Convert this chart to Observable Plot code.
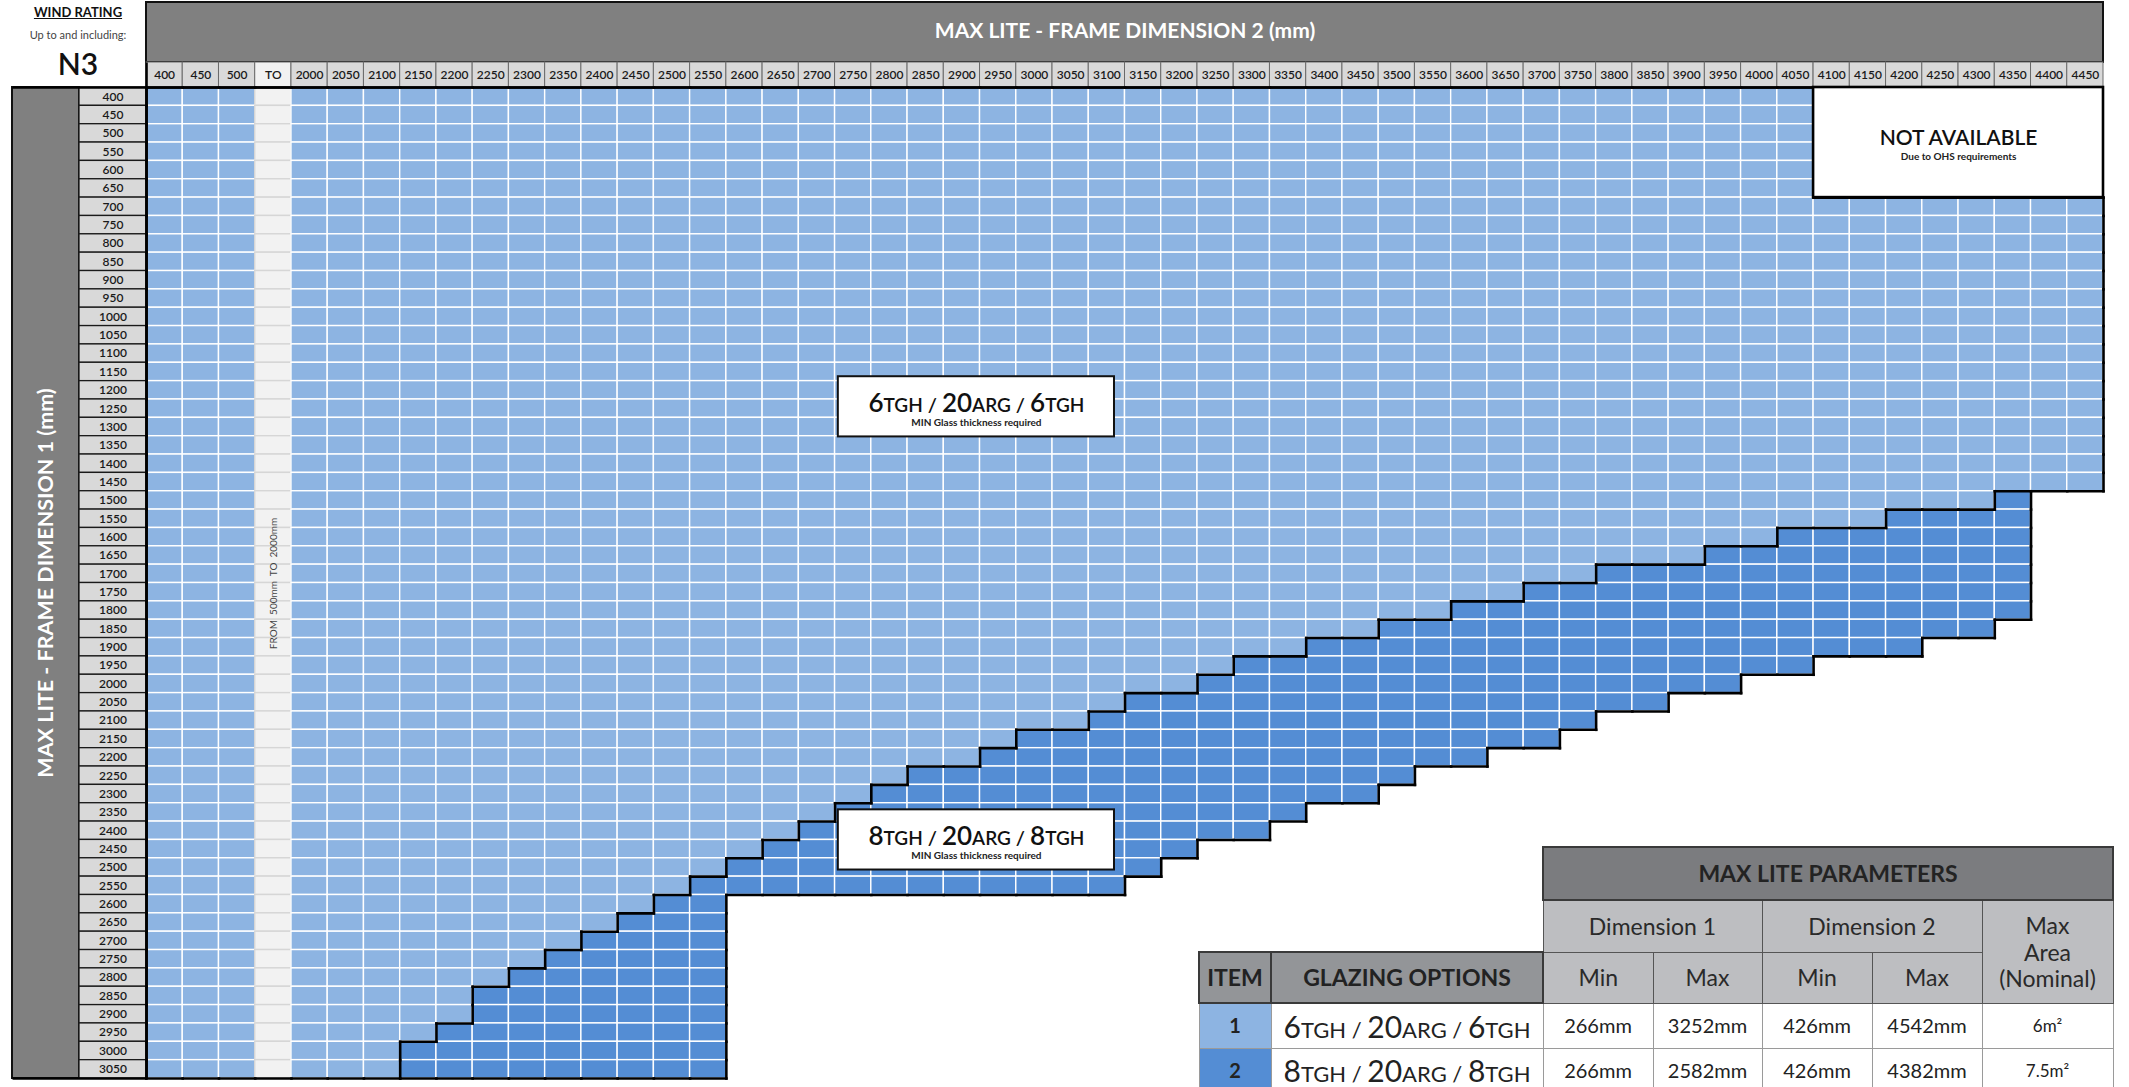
<!DOCTYPE html>
<html>
<head>
<meta charset="utf-8">
<script src="https://cdn.jsdelivr.net/npm/d3@7"></script>
<script src="https://cdn.jsdelivr.net/npm/@observablehq/plot@0.6"></script>
<style>
html,body{margin:0;padding:0;background:#fff;}
#wrap{position:relative;width:2129px;height:1087px;overflow:hidden;font-family:Lato,"Noto Sans",sans-serif;}
#wrap svg{position:absolute;left:0;top:0;}
.wind{position:absolute;left:0;width:156px;text-align:center;color:#111;white-space:nowrap;}
#params{position:absolute;left:1198px;top:846px;}
#params table{border-collapse:collapse;table-layout:fixed;width:914px;font-family:Lato,sans-serif;}
#params td,#params th{padding:0;text-align:center;vertical-align:middle;line-height:1.15;}
#params .blank{background:transparent;border:none;}
#params .h1{background:#7b7c7f;color:#232323;font-weight:700;font-size:23px;border:2px solid #3a3a3a;}
#params .h2{background:#bdbec1;color:#2a2a2a;font-weight:400;font-size:23px;border:1.5px solid #555;}
#params .h3{background:#939598;color:#222;font-weight:700;font-size:23px;border:2px solid #3a3a3a;}
#params .d{background:#fff;color:#222;font-size:20px;border:1px solid #9a9a9a;}
#params .item{font-weight:700;font-size:20px;color:#222;border:1px solid #9a9a9a;}
#params .big{font-size:30px;}
#params .sm{font-size:22px;}
#params .area{font-size:17px;}
</style>
</head>
<body>
<div id="wrap">
  <div class="wind" style="top:4px;font-size:13px;line-height:16px;font-weight:700;text-decoration:underline;">WIND RATING</div>
  <div class="wind" style="top:28px;font-size:11px;line-height:14px;color:#444;">Up to and including:</div>
  <div class="wind" style="top:45px;font-size:30px;line-height:36px;font-weight:600;">N3</div>
</div>
<script>
// ---- Grid axes (tick labels) ----
const dim2Labels = ["400","450","500","TO","2000","2050","2100","2150","2200","2250","2300","2350","2400","2450","2500","2550","2600","2650","2700","2750","2800","2850","2900","2950","3000","3050","3100","3150","3200","3250","3300","3350","3400","3450","3500","3550","3600","3650","3700","3750","3800","3850","3900","3950","4000","4050","4100","4150","4200","4250","4300","4350","4400","4450"];
const dim1Labels = [400,450,500,550,600,650,700,750,800,850,900,950,1000,1050,1100,1150,1200,1250,1300,1350,1400,1450,1500,1550,1600,1650,1700,1750,1800,1850,1900,1950,2000,2050,2100,2150,2200,2250,2300,2350,2400,2450,2500,2550,2600,2650,2700,2750,2800,2850,2900,2950,3000,3050];

// ---- Per Dimension-1 row: last Dimension-2 value covered (option 1 region) ----
const opt1To = [4050,4050,4050,4050,4050,4050,
  4450,4450,4450,4450,4450,4450,4450,4450,4450,4450,4450,4450,4450,4450,4450,4450,
  4300,4150,4000,3900,3750,3650,3550,3450,3350,3250,3200,3100,3050,2950,2900,2800,2750,2700,2650,2600,2550,2500,2450,2400,2350,2300,2250,2200,2200,2150,2100,2100];
// ---- Per row: option 2 (8TGH) range of Dimension 2 ----
const opt2From = [null,null,null,null,null,null,null,null,null,null,null,null,null,null,null,null,null,null,null,null,null,null,
  4350,4200,4050,3950,3800,3700,3600,3500,3400,3300,3250,3150,3100,3000,2950,2850,2800,2750,2700,2650,2600,2550,2500,2450,2400,2350,2300,2250,2250,2200,2150,2150];
const opt2To = [null,null,null,null,null,null,null,null,null,null,null,null,null,null,null,null,null,null,null,null,null,null,
  4350,4350,4350,4350,4350,4350,4350,4300,4200,4050,3950,3850,3750,3700,3600,3500,3450,3350,3300,3200,3150,3100,2550,2550,2550,2550,2550,2550,2550,2550,2550,2550];

// ---- Annotations ----
const glazingNotes = [
  {label: "6TGH / 20ARG / 6TGH", note: "MIN Glass thickness required", col: 22.9, row: 17.4},
  {label: "8TGH / 20ARG / 8TGH", note: "MIN Glass thickness required", col: 22.9, row: 41.0}
];
const naTitle = "NOT AVAILABLE", naNote = "Due to OHS requirements";
const toNote = "FROM\u00a0\u00a0500mm\u00a0\u00a0TO\u00a0\u00a02000mm";
const xTitle = "MAX LITE - FRAME DIMENSION 2 (mm)";
const yTitle = "MAX LITE - FRAME DIMENSION 1 (mm)";

// ---- Parameters table ----
const itemNo = [1, 2];
const glazingOptions = ["6TGH / 20ARG / 6TGH", "8TGH / 20ARG / 8TGH"];
const dim1Min = ["266mm", "266mm"];
const dim1Max = ["3252mm", "2582mm"];
const dim2Min = ["426mm", "426mm"];
const dim2Max = ["4542mm", "4382mm"];
const maxArea = ["6m\u00b2", "7.5m\u00b2"];

// styles
const catColor = {opt1: "#8db4e2", opt2: "#548dd4", to: "#f2f2f2"};
const itemColor = ["#8db4e2", "#548dd4"];

const nC = dim2Labels.length, nR = dim1Labels.length;
function category(i, j) {
  const lab = dim2Labels[i];
  if (lab === "TO") return "to";
  const v = +lab;
  if (opt2From[j] != null && v >= opt2From[j] && v <= opt2To[j]) return "opt2";
  if (v <= opt1To[j]) return "opt1";
  return "none";
}
const cells = [];
const catGrid = dim1Labels.map((d1, j) => dim2Labels.map((d2, i) => {
  const c = category(i, j);
  cells.push({i, j, d1, d2, cat: c});
  return c;
}));
const grp = c => c === "opt2" ? "D" : c === "none" ? "N" : "A";
const g = (i, j) => (i < 0 || j < 0 || i >= nC || j >= nR) ? "N" : grp(catGrid[j][i]);
const edges = [];
for (let j = 0; j < nR; j++) for (let i = 0; i <= nC; i++)
  if (g(i - 1, j) !== g(i, j)) edges.push({x1: i, x2: i, y1: j, y2: j + 1});
for (let j = 0; j <= nR; j++) for (let i = 0; i < nC; i++)
  if (g(i, j - 1) !== g(i, j)) edges.push({x1: i, x2: i + 1, y1: j, y2: j});

// not-available block (top right) from data
const na = cells.filter(c => c.cat === "none" && c.j < 22);
const naBox = [{x1: d3.min(na, c => c.i), x2: d3.max(na, c => c.i) + 1, y1: d3.min(na, c => c.j), y2: d3.max(na, c => c.j) + 1}];

const X0 = 146, X1 = 2103, Y0 = 87, Y1 = 1078;
const cw = (X1 - X0) / nC, rh = (Y1 - Y0) / nR;
const px = p => (p - X0) / cw, py = p => (p - Y0) / rh;

const headerCells = dim2Labels.map((d, i) => ({d, i}));
const rowCells = dim1Labels.map((d, j) => ({d, j}));

const plot = Plot.plot({
  width: 2129, height: 1087,
  marginTop: 0, marginLeft: 0, marginRight: 0, marginBottom: 0,
  x: {domain: [0, nC], range: [X0, X1], axis: null},
  y: {domain: [0, nR], range: [Y0, Y1], axis: null},
  style: {fontFamily: "Lato, 'Noto Sans', sans-serif", background: "transparent", overflow: "visible"},
  marks: [
    // top title bar
    Plot.rect([xTitle], {x1: 0, x2: nC, y1: py(2), y2: py(62), fill: "#808080", stroke: "#111", strokeWidth: 2}),
    Plot.text([xTitle], {x: nC / 2, y: py(31), text: d => d, fill: "#fff", fontSize: 21, fontWeight: 700}),
    // column header cells
    Plot.rect(headerCells, {x1: d => d.i, x2: d => d.i + 1, y1: py(62), y2: 0, fill: d => d.d === "TO" ? "#f2f2f2" : "#d9d9d9", stroke: "#6a6a6a", strokeWidth: 1}),
    Plot.text(headerCells, {x: d => d.i + 0.5, y: py(62) / 2, text: "d", fill: "#1a1a1a", fontSize: 12, fontWeight: 600}),
    // left title bar
    Plot.rect([yTitle], {x1: px(12), x2: px(79), y1: 0, y2: nR, fill: "#808080", stroke: "#111", strokeWidth: 2}),
    Plot.text([yTitle], {x: px(46), y: nR / 2, text: d => d, fill: "#fff", fontSize: 21.5, fontWeight: 700, rotate: -90}),
    // row label cells
    Plot.rect(rowCells, {x1: px(79), x2: 0, y1: d => d.j, y2: d => d.j + 1, fill: "#d9d9d9", stroke: "#1a1a1a", strokeWidth: 1.3}),
    Plot.text(rowCells, {x: px(79) / 2, y: d => d.j + 0.5, text: d => String(d.d), fill: "#1a1a1a", fontSize: 12, fontWeight: 600}),
    // grid cells
    Plot.rect(cells.filter(c => c.cat !== "none"), {x1: "i", x2: d => d.i + 1, y1: "j", y2: d => d.j + 1,
      fill: d => catColor[d.cat], stroke: d => d.cat === "to" ? "#d6d6d6" : "#ffffff", strokeWidth: 1.4}),
    // region boundaries
    Plot.link(edges, {x1: "x1", y1: "y1", x2: "x2", y2: "y2", stroke: "#000", strokeWidth: 2.6, strokeLinecap: "square"}),
    // thick separators
    Plot.link([0], {x1: px(12), x2: nC, y1: 0, y2: 0, stroke: "#000", strokeWidth: 2.6}),
    Plot.link([0], {x1: 0, x2: 0, y1: py(62), y2: nR, stroke: "#000", strokeWidth: 2.6}),
    Plot.link([0], {x1: px(12), x2: 0, y1: nR, y2: nR, stroke: "#000", strokeWidth: 2.6}),
    // FROM 500 TO 2000 note in TO column
    Plot.text([toNote], {x: 3.5, y: py(583), text: d => d, rotate: -90, fontSize: 10, fill: "#444"}),
    // NOT AVAILABLE box
    Plot.rect(naBox, {x1: "x1", x2: "x2", y1: "y1", y2: "y2", fill: "#fff", stroke: "#000", strokeWidth: 2.6}),
    Plot.text(naBox, {x: d => (d.x1 + d.x2) / 2, y: d => (d.y1 + d.y2) / 2, text: () => naTitle, fontSize: 21, fontWeight: 600, fill: "#111", lineAnchor: "bottom", dy: 2}),
    Plot.text(naBox, {x: d => (d.x1 + d.x2) / 2, y: d => (d.y1 + d.y2) / 2, text: () => naNote, fontSize: 10, fontWeight: 700, fill: "#222", lineAnchor: "bottom", dy: 17}),
    // glazing annotation boxes
    Plot.rect(glazingNotes, {x1: d => d.col - 3.81, x2: d => d.col + 3.81, y1: d => d.row - 1.64, y2: d => d.row + 1.64, fill: "#fff", stroke: "#111", strokeWidth: 2}),
    Plot.text(glazingNotes, {x: "col", y: "row", text: "label", fontSize: 20, fontWeight: 600, fill: "#111", lineAnchor: "bottom", dy: 5}),
    Plot.text(glazingNotes, {x: "col", y: "row", text: "note", fontSize: 10, fontWeight: 700, fill: "#222", lineAnchor: "bottom", dy: 19})
  ]
});

// mixed-size glazing text (digits large, letters small caps)
function splitGlazing(s) {
  return Array.from(s.matchAll(/(\d+)|([A-Z]+)|(\s*\/\s*)/g)).map(m => ({t: m[0], k: m[1] ? "num" : m[2] ? "let" : "sep"}));
}
d3.select(plot).selectAll("text").filter(function() { return /^\d+TGH/.test(this.textContent); }).each(function() {
  const t = d3.select(this);
  const s = t.text();
  t.text("");
  for (const p of splitGlazing(s)) {
    t.append("tspan").attr("font-size", p.k === "num" ? 26 : p.k === "let" ? 19 : 20)
      .text(p.t.replace(/ /g, "\u00a0"));
  }
});

const wrap = document.getElementById("wrap");
wrap.insertBefore(plot, wrap.firstChild);

// parameters table
const params = document.createElement("div");
params.id = "params";
const glazingHTML = s => splitGlazing(s).map(p => `<span class="${p.k === "num" ? "big" : "sm"}">${p.t}</span>`).join("");
let html = `<table><colgroup><col style="width:72px"><col style="width:272px"><col style="width:110px"><col style="width:109px"><col style="width:110px"><col style="width:110px"><col style="width:131px"></colgroup>
<tr style="height:53px"><td class="blank" colspan="2"></td><th class="h1" colspan="5">MAX LITE PARAMETERS</th></tr>
<tr style="height:52px"><td class="blank" colspan="2"></td><th class="h2" colspan="2">Dimension 1</th><th class="h2" colspan="2">Dimension 2</th><th class="h2" rowspan="2">Max<br>Area<br>(Nominal)</th></tr>
<tr style="height:51px"><th class="h3">ITEM</th><th class="h3">GLAZING OPTIONS</th><th class="h2">Min</th><th class="h2">Max</th><th class="h2">Min</th><th class="h2">Max</th></tr>`;
itemNo.forEach((n, k) => {
  html += `<tr style="height:45px"><td class="item" style="background:${itemColor[k]}">${n}</td><td class="d">${glazingHTML(glazingOptions[k])}</td><td class="d">${dim1Min[k]}</td><td class="d">${dim1Max[k]}</td><td class="d">${dim2Min[k]}</td><td class="d">${dim2Max[k]}</td><td class="d area">${maxArea[k]}</td></tr>`;
});
html += `</table>`;
params.innerHTML = html;
wrap.appendChild(params);
</script>
</body>
</html>
